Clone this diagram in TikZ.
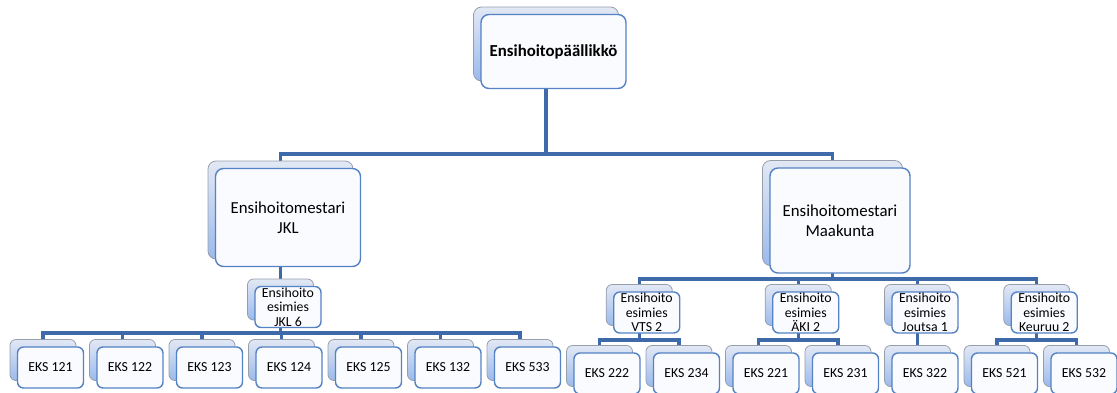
\documentclass[tikz,border=0pt]{standalone}
\usepackage{fontspec}
\setmainfont{Carlito}
\usetikzlibrary{positioning,backgrounds}
\definecolor{linkblue}{RGB}{62,106,170}
\definecolor{frontline}{RGB}{84,130,196}
\definecolor{frontfill}{RGB}{250,251,254}
\definecolor{backtop}{RGB}{226,232,244}
\definecolor{backbot}{RGB}{155,186,236}
\definecolor{backline}{RGB}{150,158,172}

\begin{document}
\begin{tikzpicture}[x=1pt,y=-1pt]
    \tikzset{
        card/.style={rectangle,rounded corners=8pt,inner sep=0pt,align=center},
        back/.style={card,draw=backline,line width=0.8pt,top color=backtop,bottom color=backbot},
        front/.style={card,draw=frontline,line width=1.4pt,fill=frontfill,xshift=7.5pt,yshift=-7.5pt},
        big/.style={minimum width=145pt,minimum height=74pt,font=\fontsize{16.8}{20}\selectfont},
        small/.style={minimum width=66pt,minimum height=41pt,rounded corners=6pt,font=\fontsize{13.8}{14.5}\selectfont},
        link/.style={draw=linkblue,line width=3.2pt}
    }
    \useasboundingbox (0,0) rectangle (1117,392);

    % top and the two masters
    \node[back,big] (top) at (546,44) {};
    \node[front,big] (topf) at (top) {\textbf{Ensihoitopäällikkö}};
    \node[back,big,minimum height=98pt] (jkl) at (280.5,210) {};
    \node[front,big,minimum height=98pt] (jklf) at (jkl) {Ensihoitomestari\\JKL};
    \node[back,big,minimum width=140pt,minimum height=105pt] (mk) at (832.5,213) {};
    \node[front,big,minimum width=140pt,minimum height=105pt] (mkf) at (mk) {Ensihoitomestari\\Maakunta};

    % supervisors
    \node[back,small] (s1) at (280.5,299.5) {};
    \node[front,small] (s1f) at (s1) {Ensihoito\\esimies\\JKL 6};
    \node[back,small] (s2) at (639.25,305) {};
    \node[front,small] (s2f) at (s2) {Ensihoito\\esimies\\VTS 2};
    \node[back,small] (s3) at (798.25,305) {};
    \node[front,small] (s3f) at (s3) {Ensihoito\\esimies\\ÄKI 2};
    \node[back,small] (s4) at (917.5,305) {};
    \node[front,small] (s4f) at (s4) {Ensihoito\\esimies\\Joutsa 1};
    \node[back,small] (s5) at (1036.75,305) {};
    \node[front,small] (s5f) at (s5) {Ensihoito\\esimies\\Keuruu 2};

    % units
    \foreach \n [count=\i from 0] in {121,122,123,124,125,132,533} {
        \node[back,small] (e\n) at (43+79.5*\i,360) {};
        \node[front,small] (e\n-f) at (e\n) {EKS \n};
    }
    \foreach \n [count=\i from 0] in {222,234,221,231,322,521,532} {
        \node[back,small] (e\n) at (599.5+79.5*\i,366) {};
        \node[front,small] (e\n-f) at (e\n) {EKS \n};
    }

    % connectors
    \begin{scope}[on background layer]
        \coordinate (bus0) at (0,154);
        \coordinate (bus1) at (0,333);
        \coordinate (bus2) at (0,279);
        \coordinate (bus3) at (0,340);
        \foreach \c in {jkl,mk}
            \draw[link] (top.center) |- (bus0 -| \c.center) -- (\c.center);
        \draw[link] (jkl.center) -- (s1.center);
        \foreach \c in {121,122,123,124,125,132,533}
            \draw[link] (s1.center) |- (bus1 -| e\c.center) -- (e\c.center);
        \foreach \c in {s2,s3,s4,s5}
            \draw[link] (mk.center) |- (bus2 -| \c.center) -- (\c.center);
        \foreach \p/\c in {s2/222,s2/234,s3/221,s3/231,s4/322,s5/521,s5/532}
            \draw[link] (\p.center) |- (bus3 -| e\c.center) -- (e\c.center);
    \end{scope}
\end{tikzpicture}
\end{document}
